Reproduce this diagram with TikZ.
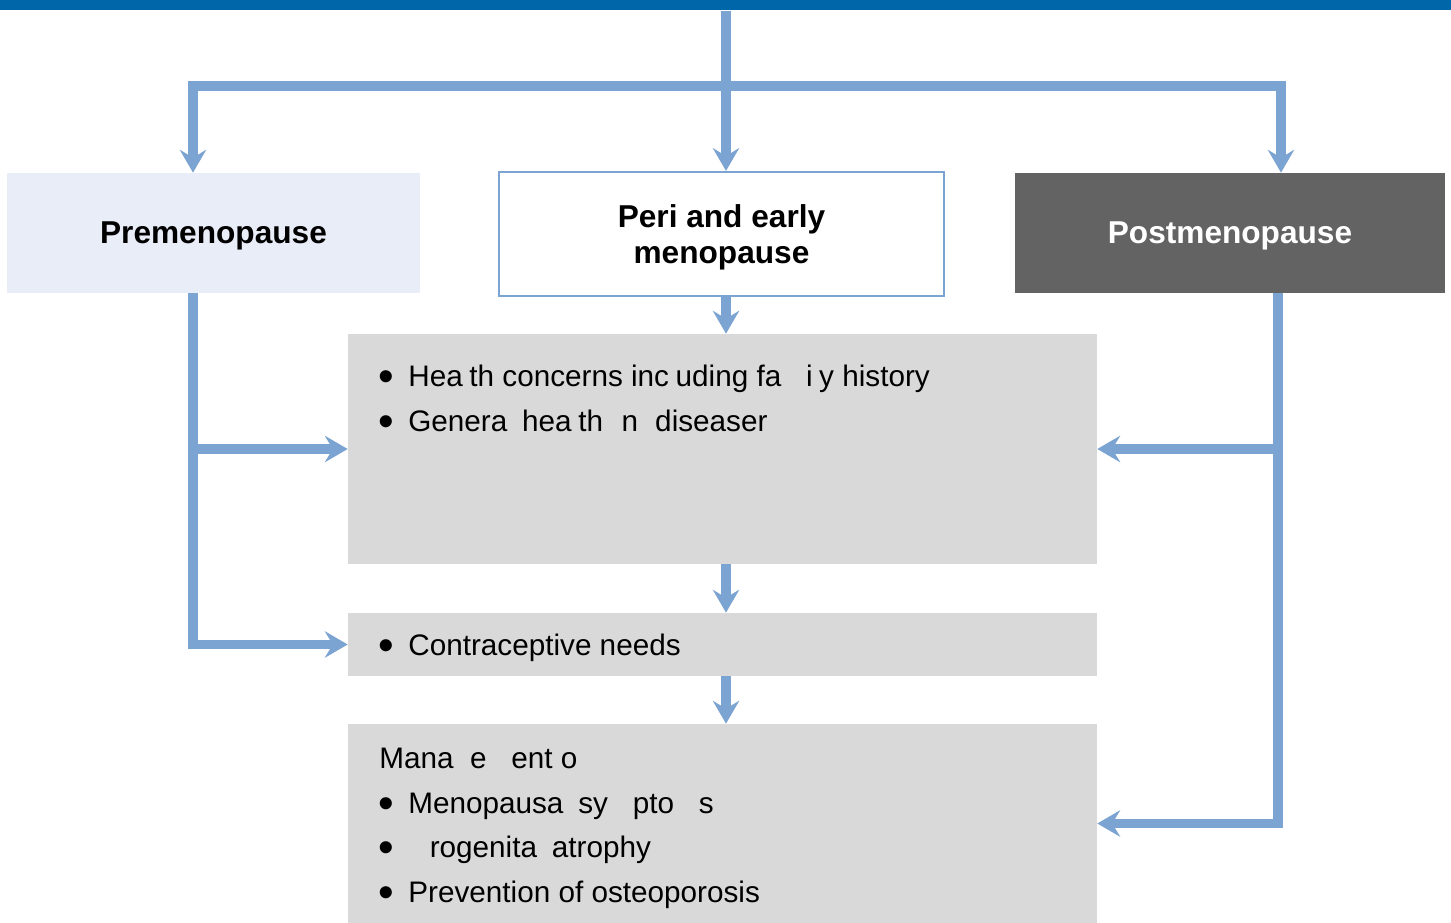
\documentclass[tikz,border=0pt]{standalone}
\usepackage{fontspec}
\usepackage{graphicx}
\setmainfont{Liberation Sans}
\usetikzlibrary{arrows.meta, positioning}
\definecolor{barblue}{RGB}{0,102,170}
\definecolor{flowblue}{RGB}{124,164,210}
\definecolor{prefill}{RGB}{233,237,248}
\definecolor{postfill}{RGB}{99,99,99}
\definecolor{boxgray}{RGB}{217,217,217}
\newcommand{\bul}{\makebox[0.6cm][l]{\raisebox{-3pt}{\scalebox{1.5}{\textbullet}}}}

\begin{document}
\begin{tikzpicture}[x=0.02cm, y=-0.02cm,
    stage/.style={minimum height=2.4cm, inner sep=0pt, align=center, text depth=0pt,
      font=\fontsize{18}{21}\selectfont\bfseries},
    panel/.style={fill=boxgray, minimum width=14.98cm, inner sep=0pt},
    item/.style={anchor=base west, inner sep=0pt, font=\fontsize{16.9}{20}\selectfont},
    flow/.style={draw=flowblue, line width=5.6pt},
    feed/.style={flow, -{Stealth[length=13pt, width=15pt, inset=4.5pt]}}
  ]
  \useasboundingbox (0,0) rectangle (1451,923);

  % top bar and the three stages
  \node[fill=barblue, minimum width=29.02cm, minimum height=0.2cm, inner sep=0pt, anchor=north] (bar) at (725.5,0) {};
  \node[stage, fill=prefill, minimum width=8.26cm] (pre) at (213.5,233) {Premenopause};
  \node[stage, draw=flowblue, line width=1.2pt, fill=white, minimum width=8.9cm, minimum height=2.48cm] (peri) at (721.5,234) {Peri and early\\menopause};
  \node[stage, fill=postfill, text=white, minimum width=8.6cm] (post) at (1230,233) {Postmenopause};

  % grey panels
  \node[panel, minimum height=4.6cm] (concerns) at (722.5,449) {};
  \node[panel, minimum height=1.26cm] (needs) at (722.5,644.5) {};
  \node[panel, minimum height=3.98cm] (mgmt) at (722.5,823.5) {};

  \node[item] (health) at (378,386.5) {\bul Hea\phantom{l}th concerns inc\phantom{l}uding fa\phantom{m}i\phantom{l}y history};
  \node[item] (general) at (378,431.5) {\bul Genera\phantom{l} hea\phantom{l}th\hspace{0.62em}n\hspace{0.58em}diseaser};
  \node[item] (contra) at (378,655.5) {\bul Contraceptive needs};
  \node[item] (mhead) at (379,768.5) {Mana\phantom{g}e\phantom{m}ent o};
  \node[item] (sympt) at (378,813.5) {\bul Menopausa\phantom{l} sy\phantom{m}pto\phantom{m}s};
  \node[item] (atroph) at (378,857.5) {\bul\phantom{U}rogenita\phantom{l} atrophy};
  \node[item] (osteo) at (378,902.5) {\bul Prevention of osteoporosis};

  % connectors
  \coordinate (split) at (726,86);
  \coordinate (lcol) at (193,86);
  \coordinate (rcol) at (1281,86);
  \coordinate (rline) at (1278,0);

  \draw[flow] (bar.south -| split) -- (split);
  \draw[feed] (split) -- (peri.north -| split);
  \draw[feed] (split) -- (lcol) -- (lcol |- pre.north);
  \draw[feed] (split) -- (rcol) -- (rcol |- post.north);

  \draw[feed] (peri.south -| split) -- (concerns.north -| split);
  \draw[feed] (concerns.south -| split) -- (needs.north -| split);
  \draw[feed] (needs.south -| split) -- (mgmt.north -| split);

  \draw[feed] (pre.south -| lcol) |- (needs.west);
  \draw[feed] (concerns.west -| lcol) -- (concerns.west);
  \draw[feed] (post.south -| rline) |- (mgmt.east);
  \draw[feed] (concerns.east -| rline) -- (concerns.east);
\end{tikzpicture}
\end{document}
